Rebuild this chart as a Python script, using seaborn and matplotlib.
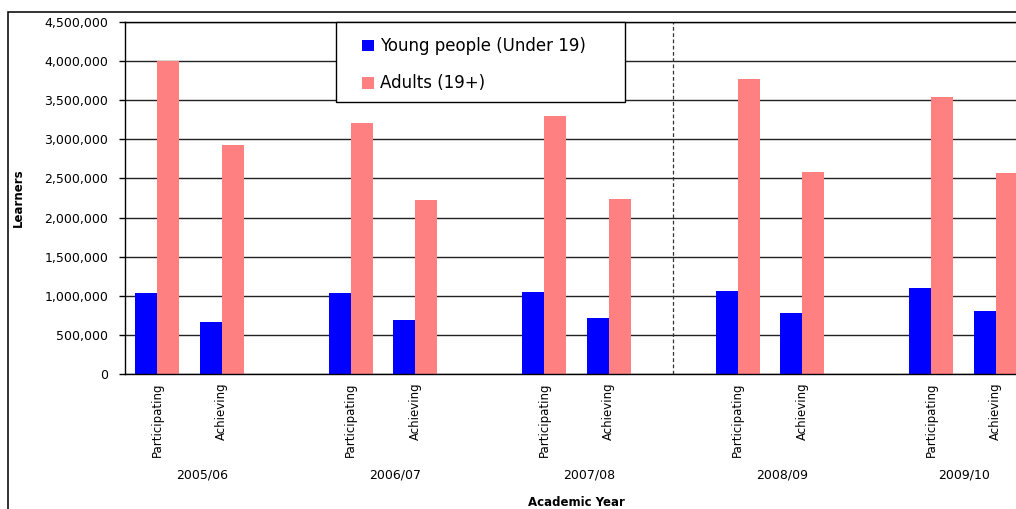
import matplotlib
matplotlib.use("Agg")
import matplotlib.pyplot as plt
import seaborn as sns
import pandas as pd
from matplotlib.patches import Rectangle
from matplotlib.ticker import FuncFormatter, MultipleLocator

years = ["2005/06", "2006/07", "2007/08", "2008/09", "2009/10"]
measures = ["Participating", "Achieving"]
series = ["Young people (Under 19)", "Adults (19+)"]
young_participating = [1037000, 1040000, 1050000, 1063000, 1101000]
young_achieving = [666000, 691000, 717000, 781000, 807000]
adult_participating = [4000000, 3214000, 3303000, 3777000, 3547000]
adult_achieving = [2932000, 2228000, 2240000, 2586000, 2574000]
colors = ["#0000FF", "#FF8080"]

sns.set_theme(style="white")
plt.rcParams['font.family'] = ['DejaVu Sans']

values = {
    (series[0], "Participating"): young_participating,
    (series[0], "Achieving"): young_achieving,
    (series[1], "Participating"): adult_participating,
    (series[1], "Achieving"): adult_achieving,
}

rows = []
order = []
for i, yr in enumerate(years):
    for m in measures:
        order.append(f"{yr} {m}")
        for s in series:
            rows.append({"slot": f"{yr} {m}", "series": s, "value": values[(s, m)][i]})
    order.append(f"{yr} gap")
df = pd.DataFrame(rows)

W, H = 1016, 509
fig = plt.figure(figsize=(W / 100, H / 100), dpi=100)
fig.patch.set_facecolor("white")

slot_px = 64.5
ax = fig.add_axes([125 / W, (H - 374) / H, slot_px * len(order) / W, 352 / H])

sns.barplot(data=df, x="slot", y="value", hue="series", order=order,
            hue_order=series, palette=colors, width=0.682, gap=0,
            saturation=1, linewidth=0, errorbar=None, ax=ax)
handles, labels = ax.get_legend_handles_labels()
if ax.get_legend() is not None:
    ax.get_legend().remove()

ax.set_xlim(-0.5, len(order) - 0.5)
ax.set_ylim(0, 4500000)
ax.yaxis.set_major_locator(MultipleLocator(500000))
ax.yaxis.set_major_formatter(FuncFormatter(lambda v, p: f"{v:,.0f}"))
ax.set_axisbelow(True)
ax.yaxis.grid(True, color="#222222", linewidth=1.0)
ax.xaxis.grid(False)

for name in ["left", "bottom", "top", "right"]:
    ax.spines[name].set_color("black")
    ax.spines[name].set_linewidth(1.0)

ax.axvline(8, color="#333333", linewidth=0.9, linestyle=(0, (3, 2)), zorder=1)

xt = []
xl = []
for i, yr in enumerate(years):
    for j, m in enumerate(measures):
        xt.append(3 * i + j)
        xl.append(m)
ax.set_xticks(xt)
ax.set_xticklabels(xl, rotation=90, va="top", ha="center", fontsize=8.5, color="black")
ax.tick_params(axis="x", length=0, pad=6)
ax.tick_params(axis="y", left=True, length=4, width=1, color="black", pad=8,
               labelsize=9, labelcolor="black", direction="out")
ax.set_xlabel("")
ax.set_ylabel("")

visible_right = (W - 125) / slot_px - 0.5
for i, yr in enumerate(years):
    xpos = min(3 * i + 0.69, visible_right - 0.8)
    ax.text(xpos, -0.287, yr, transform=ax.get_xaxis_transform(),
            ha="center", va="center", fontsize=9, color="black")

fig.text(576 / W, 1 - 502 / H, "Academic Year", ha="center", va="center",
         fontsize=8.5, fontweight="bold", color="black")
fig.text(18 / W, 1 - 198 / H, "Learners", ha="center", va="center",
         rotation=90, fontsize=8.5, fontweight="bold", color="black")

# outer chart frame
fig.add_artist(Rectangle((8 / W, -0.2), 1.5, (H - 12) / H + 0.2,
                         transform=fig.transFigure, fill=False,
                         edgecolor="#111111", linewidth=1.2, zorder=-1))

# legend box
fig.add_artist(Rectangle((336 / W, 1 - 102 / H), (625 - 336) / W, 80 / H,
                         transform=fig.transFigure, facecolor="white",
                         edgecolor="black", linewidth=1.0, zorder=4))
leg = fig.legend(handles, labels, loc="upper left",
                 bbox_to_anchor=(354 / W, 1 - 29 / H),
                 frameon=False, fontsize=12, borderpad=0, labelcolor="black",
                 handlelength=0.7, handleheight=0.7, handletextpad=0.35,
                 labelspacing=1.15)
leg.set_zorder(5)

fig.savefig("out.png", dpi=100)
